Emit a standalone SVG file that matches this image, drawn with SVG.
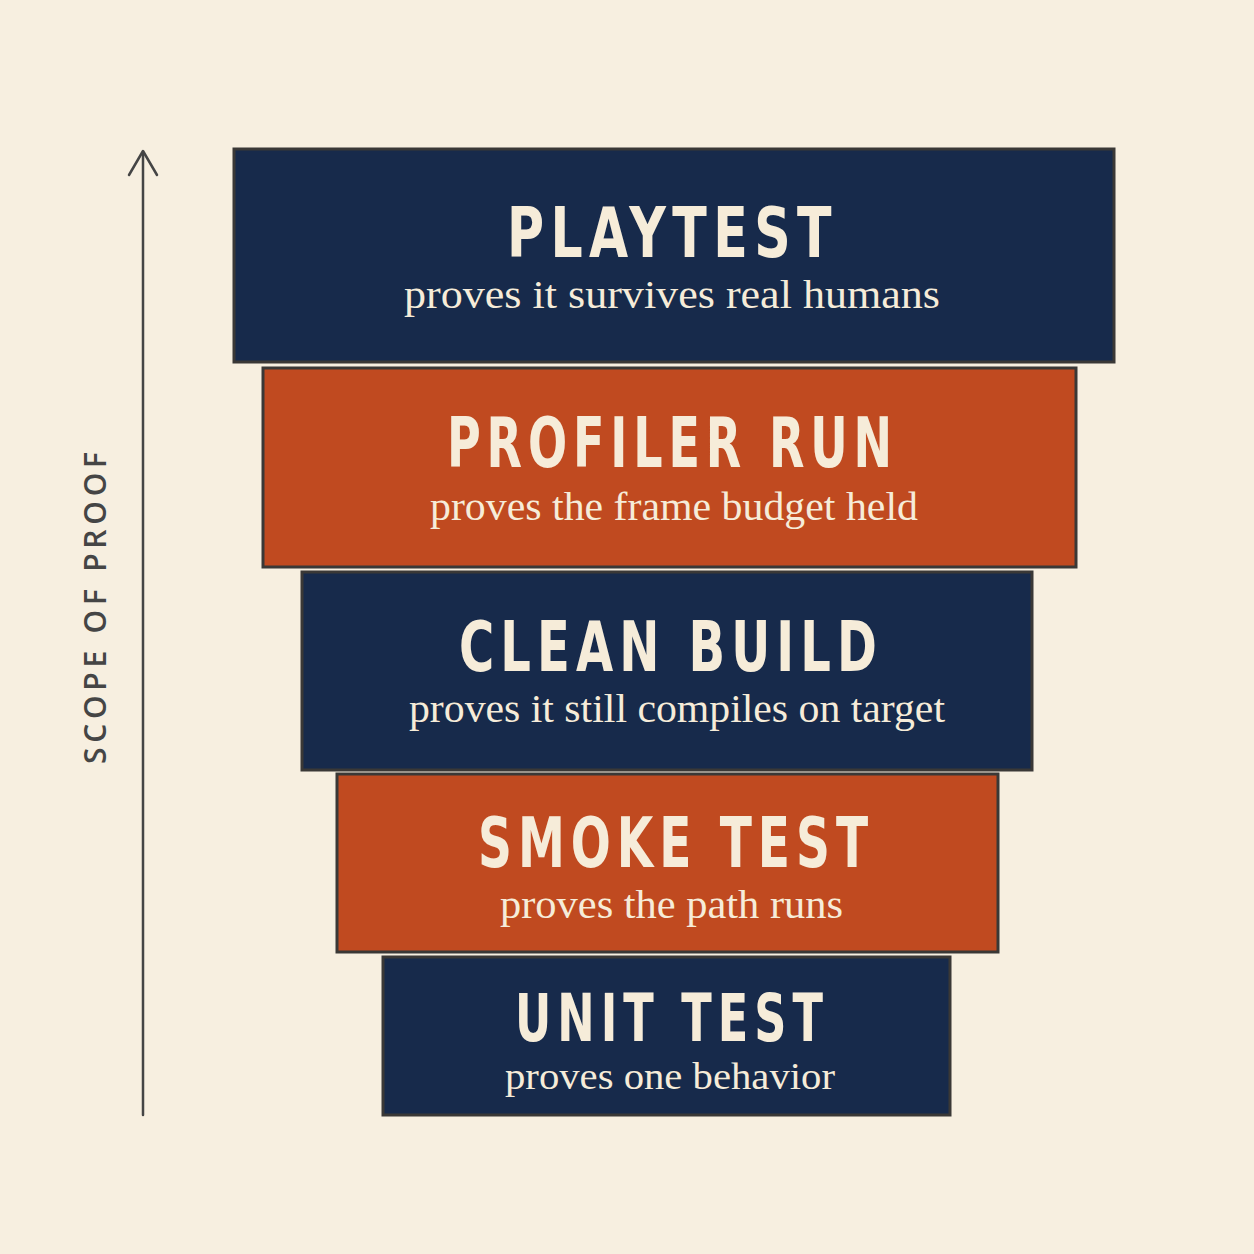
<svg xmlns="http://www.w3.org/2000/svg" width="1254" height="1254" viewBox="0 0 1254 1254">
  <style>
    .bg { fill: #f7efe0; }
    .box { stroke: #3a3836; stroke-width: 3; }
    .navy { fill: #172a4b; }
    .orange { fill: #c04a20; }
    .title { font-family: "DejaVu Sans Condensed", "DejaVu Sans", sans-serif; font-weight: bold; font-size: 70px; letter-spacing: 8px; fill: #f6ecd9; }
    .sub { font-family: "Liberation Serif", "DejaVu Serif", serif; font-size: 40px; fill: #f6ecd9; }
    .axis { stroke: #454545; stroke-width: 2.5; fill: none; stroke-linecap: round; stroke-linejoin: round; }
    .axislabel { font-family: "Open Sans", "DejaVu Sans", sans-serif; font-weight: 600; font-size: 30px; fill: #454545; }
  </style>
  <rect class="bg" x="0" y="0" width="1254" height="1254"/>

  <g id="connectors">
    <line class="axis" x1="143" y1="1115" x2="143" y2="152"/>
    <polyline class="axis" points="129,175 143,151 157,175"/>
    <text class="axislabel" transform="translate(106,608) rotate(-90)" text-anchor="middle" textLength="312" lengthAdjust="spacing">SCOPE OF PROOF</text>
  </g>

  <g id="playtest">
    <rect class="box navy" x="234" y="149" width="880" height="213"/>
    <text class="title" x="507" y="257" textLength="331" lengthAdjust="spacingAndGlyphs">PLAYTEST</text>
    <text class="sub" x="404" y="308" textLength="536" lengthAdjust="spacingAndGlyphs">proves it survives real humans</text>
  </g>

  <g id="profiler-run">
    <rect class="box orange" x="263" y="368" width="813" height="199"/>
    <text class="title" x="447" y="467" textLength="451" lengthAdjust="spacingAndGlyphs">PROFILER RUN</text>
    <text class="sub" x="430" y="520" textLength="488" lengthAdjust="spacingAndGlyphs">proves the frame budget held</text>
  </g>

  <g id="clean-build">
    <rect class="box navy" x="302" y="572" width="730" height="198"/>
    <text class="title" x="459" y="671" textLength="424" lengthAdjust="spacingAndGlyphs">CLEAN BUILD</text>
    <text class="sub" x="409" y="722" textLength="536" lengthAdjust="spacingAndGlyphs">proves it still compiles on target</text>
  </g>

  <g id="smoke-test">
    <rect class="box orange" x="337" y="774" width="661" height="178"/>
    <text class="title" x="478" y="867" textLength="396" lengthAdjust="spacingAndGlyphs">SMOKE TEST</text>
    <text class="sub" x="500" y="918" textLength="343" lengthAdjust="spacingAndGlyphs">proves the path runs</text>
  </g>

  <g id="unit-test">
    <rect class="box navy" x="383" y="957" width="567" height="158"/>
    <text class="title" x="515" y="1041" style="font-size:66px" textLength="314" lengthAdjust="spacingAndGlyphs">UNIT TEST</text>
    <text class="sub" x="505" y="1089" style="font-size:37px" textLength="330" lengthAdjust="spacingAndGlyphs">proves one behavior</text>
  </g>
</svg>
